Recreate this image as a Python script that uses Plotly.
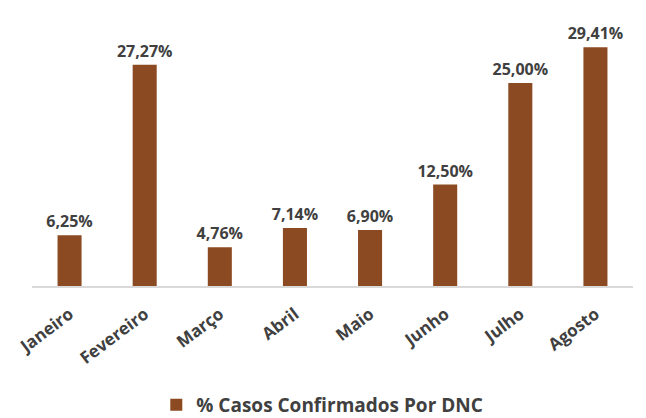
import plotly.graph_objects as go

months = ["Janeiro", "Fevereiro", "Março", "Abril", "Maio", "Junho", "Julho", "Agosto"]
values = [6.25, 27.27, 4.76, 7.14, 6.90, 12.50, 25.00, 29.41]
labels = ["6,25%", "27,27%", "4,76%", "7,14%", "6,90%", "12,50%", "25,00%", "29,41%"]
series_name = "% Casos Confirmados Por DNC"

bar_color = "#8B4A22"
text_color = "#404040"
font_family = "Open Sans"

fig = go.Figure()
fig.add_trace(go.Bar(
    x=months, y=values, name=series_name,
    marker=dict(color=bar_color, line=dict(width=0)),
    text=labels, textposition="outside", cliponaxis=False,
    textangle=0, constraintext="none",
    textfont=dict(family=font_family, size=16, color=text_color, weight="bold"),
    showlegend=True,
))

fig.update_layout(
    width=646, height=418,
    margin=dict(l=32, r=13, t=10, b=132, autoexpand=False),
    paper_bgcolor="white", plot_bgcolor="white",
    bargap=0.68,
    font=dict(family=font_family, color=text_color),
    xaxis=dict(
        tickangle=-37, showline=True, linecolor="#d9d9d9", linewidth=1.5,
        ticks="", showgrid=False, automargin=False, ticklabelstandoff=10,
        tickfont=dict(family=font_family, size=17, color=text_color, weight="bold"),
    ),
    yaxis=dict(range=[0, 34], visible=False, showgrid=False, zeroline=False, automargin=False),
    legend=dict(
        orientation="h", x=0.483, xanchor="center", y=-0.431, yanchor="middle",
        font=dict(family=font_family, size=19, color=text_color, weight="bold"),
    ),
)

fig.write_html("out.html", config={"displayModeBar": False},
               post_script="document.body.style.margin='0';")
